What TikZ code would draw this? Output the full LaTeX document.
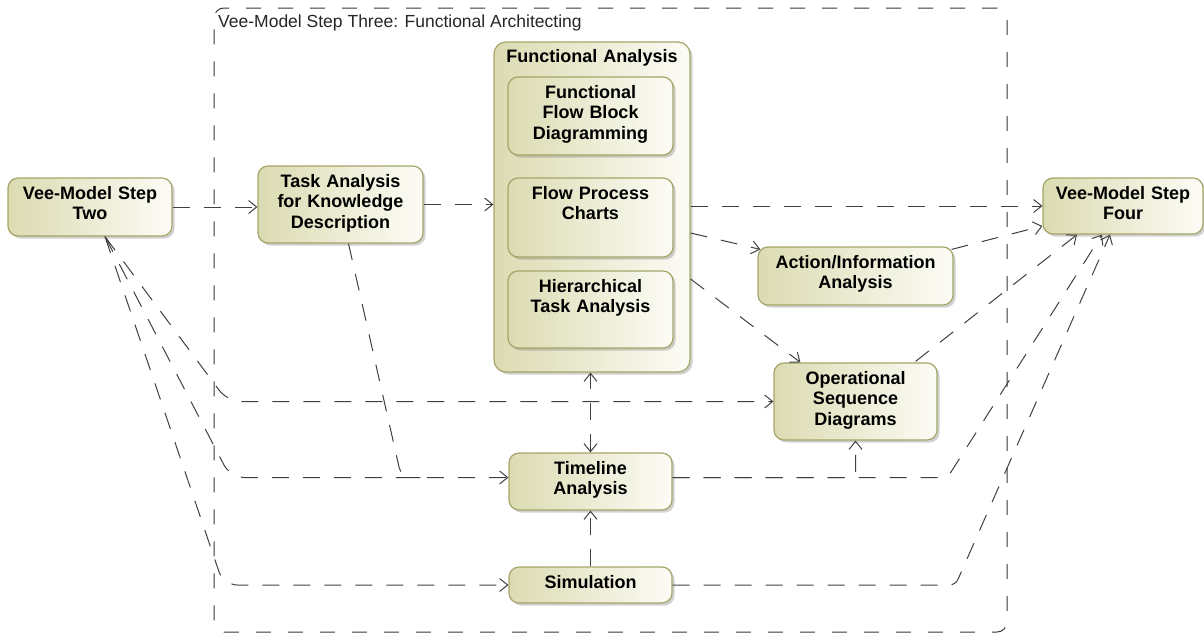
\documentclass[tikz,border=0pt]{standalone}
\usepackage{fontspec}
\setmainfont{Liberation Sans}
\usetikzlibrary{arrows.meta,shadows,calc}
\definecolor{boxedge}{RGB}{165,165,105}
\definecolor{boxdark}{RGB}{219,219,178}
\definecolor{boxlight}{RGB}{252,252,246}
\definecolor{wire}{RGB}{64,64,64}
\definecolor{framegray}{RGB}{55,55,55}

\begin{document}
\begin{tikzpicture}[x=1pt,y=-1pt,
  blk/.style={draw=boxedge, line width=1.2pt, rounded corners=10pt,
    left color=boxdark, right color=boxlight,
    drop shadow={shadow xshift=2.5pt, shadow yshift=-2.5pt, opacity=0.3, fill=black!60},
    font=\bfseries\fontsize{18}{20.5}\selectfont, align=center,
    inner sep=0pt, text height=21pt},
  tip/.tip={Straight Barb[length=8pt,width=13pt]},
  wireline/.style={draw=wire, line width=1pt, dash pattern=on 17pt off 14pt},
  conn/.style={wireline, -tip},
  bothconn/.style={wireline, tip-tip},
  framebox/.style={draw=framegray, line width=1pt, dash pattern=on 15pt off 17pt,
    rounded corners=10pt, inner sep=0pt}
]
\useasboundingbox (0,0) rectangle (1204,635);

% enclosing step-three frame
\node[framebox, minimum width=793pt, minimum height=624pt] (frame) at (610.5,320) {};
\node[anchor=base west, inner sep=0pt, font=\fontsize{17.5}{20}\selectfont, text=black!85]
  (ftitle) at (218,27) {Vee-Model Step Three: Functional Architecting};

% outer steps
\node[blk, minimum width=164pt, text width=160pt, text depth=37pt] (vms2) at (90,207) {Vee-Model Step\\Two};
\node[blk, minimum width=160pt, text width=156pt, text depth=35pt] (vms4) at (1123,206) {Vee-Model Step\\Four};

% activities inside step three
\node[blk, minimum width=165pt, text width=160pt, text depth=56pt] (takd) at (340.5,204.5) {Task Analysis\\for Knowledge\\Description};

\node[blk, rounded corners=12pt, minimum width=196pt, text width=190pt, text height=20pt, text depth=310pt] (fa) at (592,207) {Functional Analysis};
\node[blk, minimum width=165pt, text width=160pt, text depth=57pt] (ffbd) at (590.5,116) {Functional\\Flow Block\\Diagramming};
\node[blk, minimum width=165pt, text width=160pt, text depth=58pt] (fpc) at (590.5,217.5) {Flow Process\\Charts};
\node[blk, minimum width=165pt, text width=160pt, text depth=56pt] (hta) at (590.5,309.5) {Hierarchical\\Task Analysis};

\node[blk, minimum width=195pt, text width=190pt, text depth=37pt] (aia) at (855.5,276) {Action/Information\\Analysis};
\node[blk, minimum width=163pt, text width=158pt, text depth=56pt] (osd) at (855.5,401.5) {Operational\\Sequence\\Diagrams};
\node[blk, minimum width=163pt, text width=158pt, text depth=36pt] (ta) at (590.5,481.5) {Timeline\\Analysis};
\node[blk, minimum width=163pt, text width=158pt, text depth=15pt] (sim) at (590.5,585) {Simulation};

% main flow
\draw[conn] (vms2.east) -- (vms2.east -| takd.west);
\draw[conn] (takd.east) -- (takd.east -| fa.west);
\draw[conn] (fa.east |- vms4.west) -- (vms4.west);

% from functional analysis
\draw[conn] ($(fa.east)+(0,26)$) -- ($(aia.north west)+(3,3)$);
\draw[conn] ($(fa.east)+(0,72)$) -- ($(osd.north west)+(27,0)$);

% into step four
\draw[conn] ($(aia.north east)+(-2,3)$) -- ($(vms4.west)+(0,20)$);
\draw[conn] ($(osd.north east)+(-22,-1)$) -- ($(vms4.south)+(-46,0)$);
\draw[conn, rounded corners=6pt] ($(ta.east)+(0,-4)$) -- ($(frame.east |- ta.east)+(-60,-4)$) -- ($(vms4.south)+(-21,0)$);
\draw[conn, rounded corners=6pt] (sim.east) -- ($(frame.east |- sim.east)+(-52,0)$) -- ($(vms4.south)+(-13,0)$);

% timeline analysis links
\draw[conn, rounded corners=6pt] ($(ta.east)+(0,-4)$) -| (osd.south);
\draw[conn] (sim.north) -- (ta.south);
\draw[bothconn] (ta.north) -- (ta.north |- fa.south);

% from step two into the lower activities
\draw[conn, rounded corners=14pt] ($(vms2.south)+(15,0)$) -- ($(frame.west |- osd.west)+(14,0)$) -- (osd.west);
\draw[conn, rounded corners=14pt] ($(vms2.south)+(15,0)$) -- ($(frame.west |- ta.west)+(17,-4)$) -- ($(ta.west)+(0,-4)$);
\draw[conn, rounded corners=14pt] ($(vms2.south)+(15,0)$) -- ($(frame.west |- sim.west)+(10,0)$) -- (sim.west);

% task analysis feeds the timeline, merging into the shared entry line
\coordinate (tajoin) at ($(ta.west)+(-88,-4)$);
\draw[wireline, rounded corners=10pt] ($(takd.south)+(8,0)$) -- ($(ta.west)+(-107,-4)$) -- (tajoin);
\end{tikzpicture}
\end{document}
